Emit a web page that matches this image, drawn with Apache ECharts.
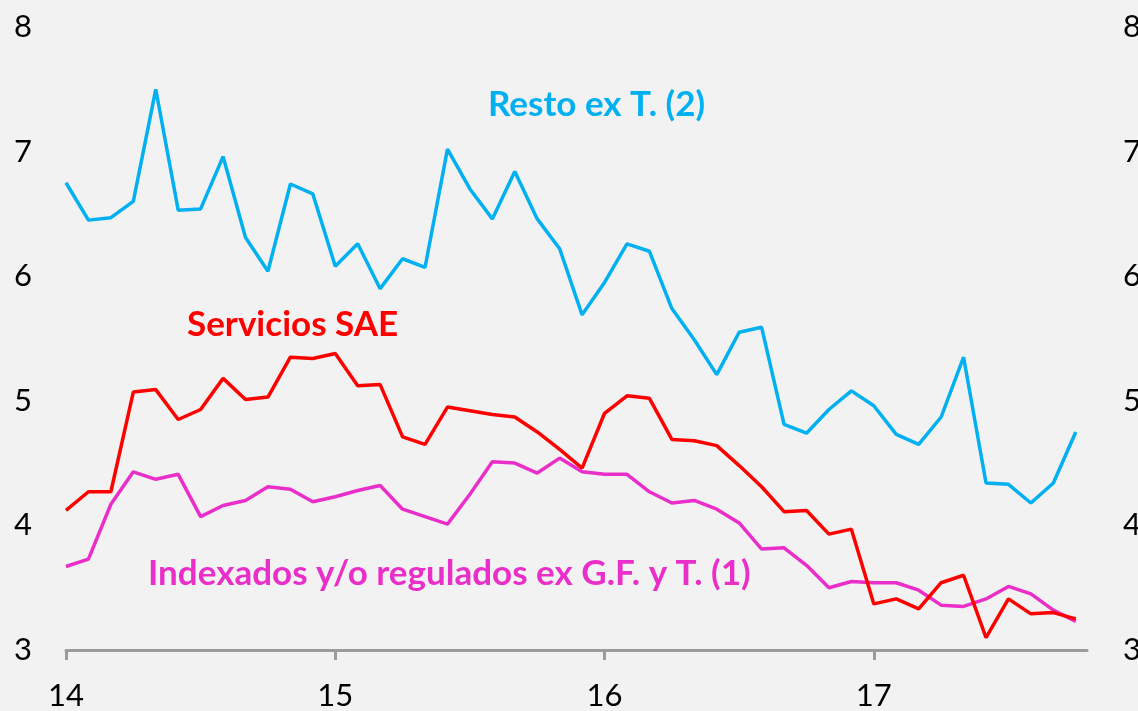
<!DOCTYPE html>
<html>
<head>
<meta charset="utf-8">
<script src="https://cdn.jsdelivr.net/npm/echarts@6/dist/echarts.min.js"></script>
<style>
    html, body { margin: 0; padding: 0; background: #f2f2f2; }
    #chart { width: 1138px; height: 711px; }
</style>
</head>
<body>
<div id="chart"></div>
<script>
// meses desde ene-14 (0) hasta oct-17 (45)
var yearTicks = [0, 12, 24, 36];
var yearLabels = ['14', '15', '16', '17'];

// Resto ex T. (2)
var resto = [6.75, 6.45, 6.47, 6.60, 7.50, 6.53, 6.54, 6.96, 6.31, 6.04, 6.74, 6.66,
    6.08, 6.26, 5.90, 6.14, 6.07, 7.02, 6.70, 6.46, 6.84, 6.46, 6.22, 5.69,
    5.95, 6.26, 6.20, 5.74, 5.49, 5.21, 5.55, 5.59, 4.81, 4.74, 4.93, 5.08,
    4.96, 4.73, 4.65, 4.87, 5.35, 4.34, 4.33, 4.18, 4.34, 4.75];

// Servicios SAE
var servicios = [4.12, 4.27, 4.27, 5.07, 5.09, 4.85, 4.93, 5.18, 5.01, 5.03, 5.35, 5.34,
    5.38, 5.12, 5.13, 4.71, 4.65, 4.95, 4.92, 4.89, 4.87, 4.75, 4.61, 4.46,
    4.90, 5.04, 5.02, 4.69, 4.68, 4.64, 4.48, 4.31, 4.11, 4.12, 3.93, 3.97,
    3.37, 3.41, 3.33, 3.54, 3.60, 3.10, 3.41, 3.29, 3.30, 3.25];

// Indexados y/o regulados ex G.F. y T. (1)
var indexados = [3.67, 3.73, 4.17, 4.43, 4.37, 4.41, 4.07, 4.16, 4.20, 4.31, 4.29, 4.19,
    4.23, 4.28, 4.32, 4.13, 4.07, 4.01, 4.25, 4.51, 4.50, 4.42, 4.54, 4.43,
    4.41, 4.41, 4.27, 4.18, 4.20, 4.13, 4.02, 3.81, 3.82, 3.68, 3.50, 3.55,
    3.54, 3.54, 3.48, 3.36, 3.35, 3.41, 3.51, 3.45, 3.32, 3.23];

var colors = {
    resto: '#00b0f0',
    servicios: '#ff0000',
    indexados: '#ea2ec9',
    axis: '#9b9b9b',
    text: '#000000'
};
var fontFamily = 'Lato, "Open Sans", sans-serif';

function toPairs(list) {
    var out = [];
    for (var i = 0; i < list.length; i++) {
        out.push([i, list[i]]);
    }
    return out;
}

function yearLabel(v) {
    var idx = yearTicks.indexOf(v);
    return idx === -1 ? '' : yearLabels[idx];
}

function lineSerie(name, list, color) {
    return {
        name: name,
        type: 'line',
        data: toPairs(list),
        symbol: 'none',
        smooth: false,
        lineStyle: { color: color, width: 3.5 },
        itemStyle: { color: color },
        z: 3
    };
}

var yAxisBase = {
    type: 'value',
    min: 3,
    max: 8,
    interval: 1,
    axisLine: { show: false },
    axisTick: { show: false },
    splitLine: { show: false },
    axisLabel: {
        color: colors.text,
        fontSize: 31,
        fontFamily: fontFamily
    }
};

var chart = echarts.init(document.getElementById('chart'));
var option = {
    backgroundColor: '#f2f2f2',
    animation: false,
    grid: { left: 66, right: 51, top: 27, bottom: 61, containLabel: false, outerBoundsMode: 'none' },
    xAxis: {
        type: 'value',
        min: 0,
        max: 45.5,
        interval: 12,
        axisLine: { show: true, lineStyle: { color: colors.axis, width: 3 } },
        axisTick: {
            show: true,
            inside: false,
            length: 10,
            customValues: yearTicks,
            lineStyle: { color: colors.axis, width: 3 }
        },
        axisLabel: {
            customValues: yearTicks,
            formatter: yearLabel,
            color: colors.text,
            fontSize: 31,
            fontFamily: fontFamily,
            margin: 30
        },
        splitLine: { show: false }
    },
    yAxis: [
        echarts.util.merge({ position: 'left', axisLabel: { margin: 34, align: 'right' } }, yAxisBase),
        echarts.util.merge({ position: 'right', axisLabel: { margin: 36, align: 'left' } }, yAxisBase)
    ],
    series: [
        lineSerie('Resto ex T. (2)', resto, colors.resto),
        lineSerie('Indexados y/o regulados ex G.F. y T. (1)', indexados, colors.indexados),
        lineSerie('Servicios SAE', servicios, colors.servicios)
    ],
    graphic: [
        {
            type: 'text', left: 488, top: 87,
            style: { text: 'Resto ex T. (2)', fill: colors.resto, font: 'bold 35px ' + fontFamily }
        },
        {
            type: 'text', left: 187, top: 307,
            style: { text: 'Servicios SAE', fill: colors.servicios, font: 'bold 35px ' + fontFamily }
        },
        {
            type: 'text', left: 148, top: 556,
            style: { text: 'Indexados y/o regulados ex G.F. y T. (1)', fill: colors.indexados, font: 'bold 35px ' + fontFamily }
        }
    ]
};
chart.setOption(option);
</script>
</body>
</html>
